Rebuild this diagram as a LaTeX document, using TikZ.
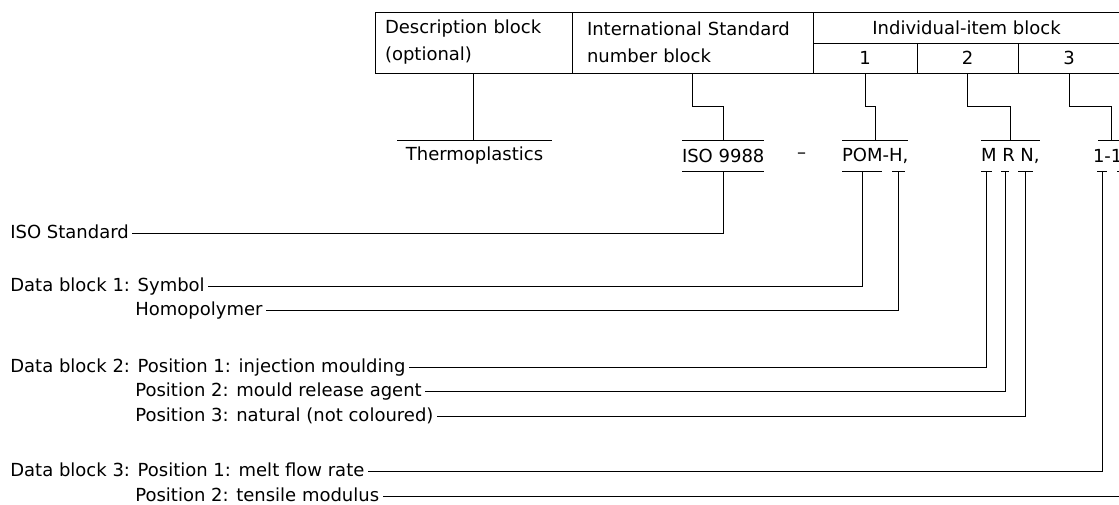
\documentclass[tikz,border=0pt]{standalone}
\usepackage{fontspec}
\setmainfont{DejaVu Sans}
\usetikzlibrary{positioning, calc}

\begin{document}
\begin{tikzpicture}[x=1pt, y=-1pt, line width=0.7pt,
    font=\fontsize{18}{27}\selectfont,
    cell/.style={draw, inner sep=0pt, outer sep=0pt, anchor=north west},
    code/.style={inner sep=0pt, outer sep=0pt, minimum height=31pt, anchor=west},
    lbl/.style={inner sep=3pt, anchor=west, text height=13pt, text depth=2pt}]
    \useasboundingbox (0,0) rectangle (1119,504);
    \clip (0,0) rectangle (1119,504);

    % designation table
    \node[cell, minimum width=197pt, minimum height=61pt, text width=177pt, align=left] (desc) at (375,12) {Description block\\(optional)};
    \node[cell, minimum width=241pt, minimum height=61pt, text width=211pt, align=left] (iso) at (572,12) {International Standard\\number block};
    \node[cell, minimum width=307pt, minimum height=31pt] (item) at (813,12) {Individual-item block};
    \node[cell, minimum width=104pt, minimum height=30pt] (c1) at (813,43) {1};
    \node[cell, minimum width=101pt, minimum height=30pt] (c2) at (917,43) {2};
    \node[cell, minimum width=102pt, minimum height=30pt] (c3) at (1018,43) {3};

    % designation
    \node[code, minimum width=155pt] (thermo) at (397,155.5) {Thermoplastics};
    \node[code, minimum width=80pt] (isono) at (682,155.5) {ISO 9988};
    \node[code] (dash) at (797,155.5) {--};
    \node[code, minimum width=63pt] (pomh) at (842,155.5) {POM-H,};
    \node[code, minimum width=52pt] (mrn) at (981,155.5) {M R N,};
    \node[code] (ratio) at (1093,155.5) {1-1};
    \coordinate (rtop) at (1111,140);

    \foreach \n in {thermo, isono, pomh, mrn}
        \draw (\n.north west) -- (\n.north east);
    \draw (1098,140) -- (1130,140);
    \draw (isono.south west) -- (isono.south east);
    \foreach \a/\b in {842/882, 892/905, 981/992, 1001/1009, 1018/1033, 1097/1107, 1117/1127}
        \draw (\a,171) -- (\b,171);

    \coordinate (pom) at (862,171);
    \coordinate (hh) at (898,171);
    \coordinate (mm) at (986.5,171);
    \coordinate (rr) at (1005,171);
    \coordinate (nn) at (1025.5,171);
    \coordinate (r1) at (1102,171);
    \coordinate (r2) at (1122,171);

    % table to designation
    \draw (desc.south) -- (desc.south |- thermo.north);
    \draw (iso.south) -- ++(0,33) -| (isono.north);
    \draw (c1.south) -- ++(0,33) -| (pomh.north);
    \draw (c2.south) -- ++(0,33) -| (mrn.north);
    \draw (c3.south) -- ++(0,33) -| (rtop);

    % explanations
    \node[lbl] (isostd) at (7,233) {ISO Standard};
    \node[lbl] (symbol) at (7,286) {Data block 1: Symbol\ };
    \node[lbl] (homo) at (132,310) {Homopolymer};
    \node[lbl] (inj) at (7,367) {Data block 2: Position 1: injection moulding};
    \node[lbl] (agent) at (132,391) {Position 2: mould release agent};
    \node[lbl] (natural) at (132,416) {Position 3: natural (not coloured)};
    \node[lbl] (melt) at (7,471) {Data block 3: Position 1: melt flow rate\ };
    \node[lbl] (tensile) at (132,496) {Position 2: tensile modulus};

    \draw (isono.south) |- (isostd.east);
    \draw (pom) |- (symbol.east);
    \draw (hh) |- (homo.east);
    \draw (mm) |- (inj.east);
    \draw (rr) |- (agent.east);
    \draw (nn) |- (natural.east);
    \draw (r1) |- (melt.east);
    \draw (r2) |- (tensile.east);
\end{tikzpicture}
\end{document}
